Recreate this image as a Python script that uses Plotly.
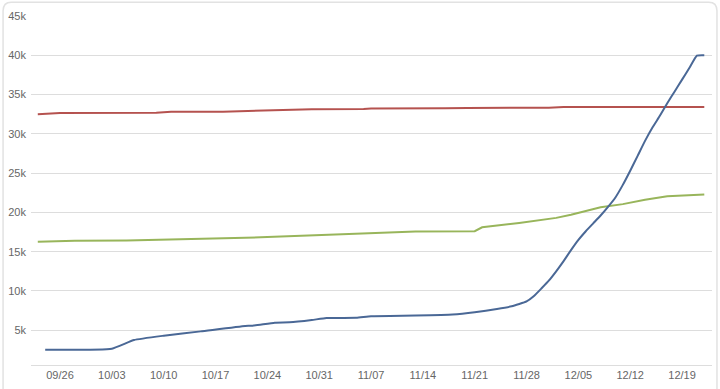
import plotly.graph_objects as go

YEAR = "2020"

blue_dates = ["09-24", "10-03", "10-06", "10-10", "10-15", "10-21", "10-22", "10-25", "10-27",
              "10-30", "11-01", "11-05", "11-07", "11-13", "11-18", "11-21", "11-24", "11-26",
              "11-28", "11-29", "11-30", "12-01", "12-02", "12-03", "12-04", "12-05", "12-06",
              "12-07", "12-08", "12-09", "12-10", "12-11", "12-12", "12-13", "12-14", "12-15",
              "12-16", "12-17", "12-18", "12-19", "12-20", "12-21", "12-22"]
blue_vals = [2520, 2650, 3750, 4300, 4850, 5550, 5560, 5950, 6000,
             6300, 6550, 6575, 6790, 6875, 7000, 7290, 7700, 8040,
             8660, 9350, 10300, 11300, 12500, 13800, 15200, 16500, 17600,
             18600, 19600, 20700, 21900, 23500, 25300, 27200, 29100, 30800,
             32300, 33900, 35400, 36900, 38400, 39950, 40000]

red_dates = ["09-23", "09-26", "10-09", "10-11", "10-18", "10-24", "10-27", "10-30",
             "11-06", "11-07", "11-17", "11-20", "12-01", "12-03", "12-22"]
red_vals = [32500, 32650, 32680, 32800, 32820, 32960, 32980, 33120,
            33150, 33220, 33260, 33300, 33330, 33400, 33420]

green_dates = ["09-23", "09-28", "10-05", "10-13", "10-24", "11-04", "11-13", "11-21",
               "11-22", "11-27", "12-02", "12-04", "12-08", "12-11", "12-14", "12-17", "12-22"]
green_vals = [16250, 16400, 16420, 16600, 16850, 17250, 17550, 17600,
              18100, 18650, 19300, 19700, 20650, 21050, 21600, 22050, 22270]

tick_dates = ["09-26", "10-03", "10-10", "10-17", "10-24", "10-31", "11-07",
              "11-14", "11-21", "11-28", "12-05", "12-12", "12-19"]
y_ticks = [5000, 10000, 15000, 20000, 25000, 30000, 35000, 40000, 45000]
y_labels = ["5k", "10k", "15k", "20k", "25k", "30k", "35k", "40k", "45k"]


def d(s):
    return f"{YEAR}-{s}"


fig = go.Figure()
fig.add_trace(go.Scatter(x=[d(s) for s in red_dates], y=red_vals, mode="lines",
                         line=dict(color="#b5524f", width=2), name="red"))
fig.add_trace(go.Scatter(x=[d(s) for s in green_dates], y=green_vals, mode="lines",
                         line=dict(color="#98b55b", width=2), name="green"))
fig.add_trace(go.Scatter(x=[d(s) for s in blue_dates], y=blue_vals, mode="lines",
                         line=dict(color="#4a6896", width=2, shape="spline", smoothing=0.4),
                         name="blue"))

font = dict(family="Liberation Sans, Arial, sans-serif", size=11, color="#666666")

fig.update_layout(
    width=720, height=389,
    margin=dict(l=30, r=8, t=16, b=20),
    paper_bgcolor="white", plot_bgcolor="white",
    showlegend=False,
    font=font,
    xaxis=dict(
        type="date",
        range=[f"{YEAR}-09-22 02:00", f"{YEAR}-12-23 01:00"],
        tickvals=[d(s) for s in tick_dates],
        tickformat="%m/%d",
        showgrid=False, zeroline=False,
        showline=True, linecolor="#dddddd", linewidth=1,
        ticks="", tickfont=font,
    ),
    yaxis=dict(
        range=[570, 45000],
        tickvals=y_ticks, ticktext=y_labels,
        showgrid=True, gridcolor="#dddddd", gridwidth=1,
        zeroline=False, showline=False, ticks="",
        ticklabelstandoff=4,
        tickfont=font,
    ),
)

# light rounded frame around the chart
x0, x1 = -0.041, 1.0073
y0, y1 = -0.09, 1.0397
rx, ry = 0.012, 0.025
path = (f"M {x0},{y0} L {x0},{y1-ry} Q {x0},{y1} {x0+rx},{y1} "
        f"L {x1-rx},{y1} Q {x1},{y1} {x1},{y1-ry} L {x1},{y0}")
fig.add_shape(type="path", path=path, xref="paper", yref="paper",
              line=dict(color="#e2e2e2", width=1.5))

fig.write_html("out.html")
